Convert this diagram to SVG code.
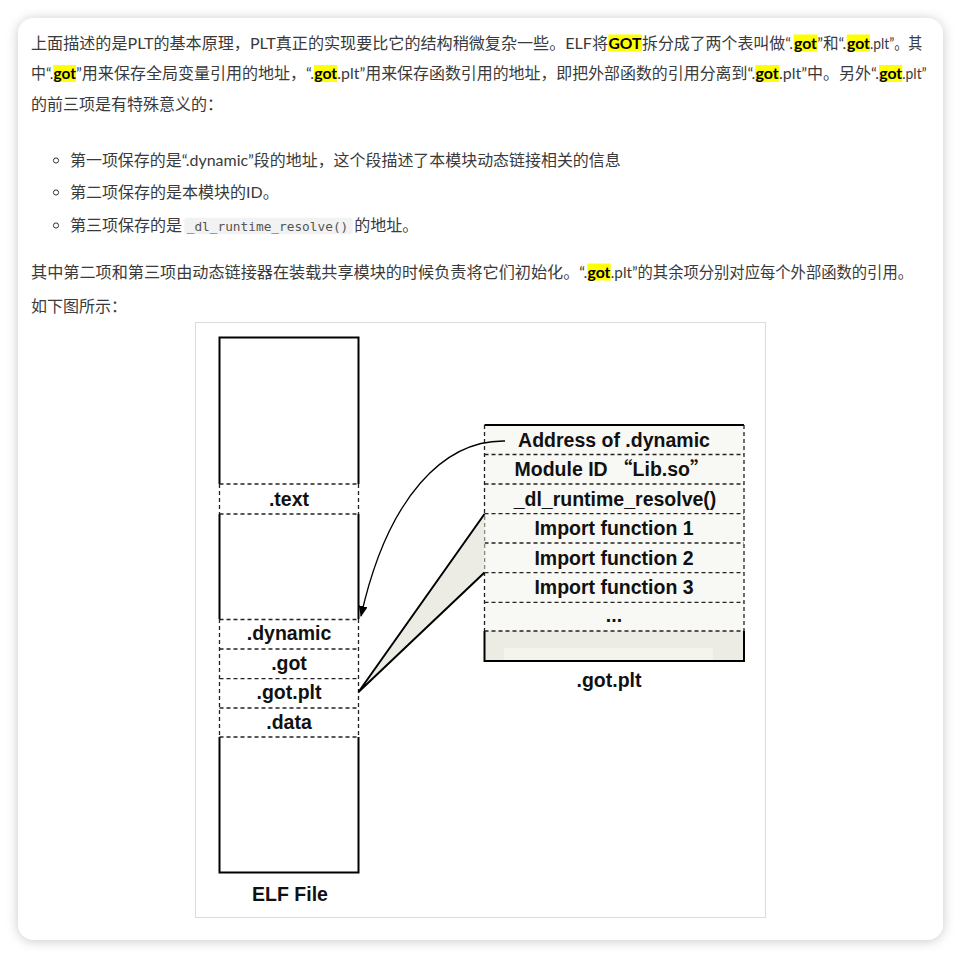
<svg xmlns="http://www.w3.org/2000/svg" width="961" height="958" viewBox="0 0 961 958">
<defs>
<filter id="shadow" x="-5%" y="-5%" width="110%" height="110%">
<feDropShadow dx="0" dy="1" stdDeviation="6" flood-color="#000" flood-opacity="0.22"/>
</filter>
<marker id="arrow" markerUnits="userSpaceOnUse" markerWidth="11" markerHeight="9" refX="10" refY="4.5" orient="auto">
<path d="M0,0 L11,4.5 L0,9 z" fill="#000"/>
</marker>
<style>
.p{font-family:Lato,"Noto Sans CJK SC",sans-serif;font-size:16px;fill:#3a3a3a}
.hl{fill:#ffff00}
.hw{font-family:Lato,"Noto Sans CJK SC",sans-serif;font-size:16px;font-weight:bold;fill:#000}
.code{font-family:"DejaVu Sans Mono",monospace;font-size:12.8px;fill:#555}
.lbl{font-family:"Liberation Sans",Arial,sans-serif;font-size:19.5px;font-weight:bold;fill:#111;text-anchor:middle}
.cjkq{font-family:"Noto Sans CJK SC",sans-serif}
.solid{stroke:#000;stroke-width:2;fill:none}
.dash{stroke:#222;stroke-width:1.3;stroke-dasharray:4,3;fill:none}
.edge{stroke:#000;stroke-width:2;fill:none}
</style>
</defs>
<rect width="961" height="958" fill="#fff"/>
<rect x="18" y="18" width="925" height="922" rx="16" fill="#fff" filter="url(#shadow)"/>

<!-- paragraph 1 -->
<rect class="hl" x="608.3" y="34.5" width="33.7" height="17"/>
<rect class="hl" x="793.7" y="34.5" width="23.6" height="17"/>
<rect class="hl" x="846.7" y="34.5" width="23.3" height="17"/>
<text class="p" x="31" y="48.5" textLength="577" lengthAdjust="spacingAndGlyphs">上面描述的是PLT的基本原理，PLT真正的实现要比它的结构稍微复杂一些。ELF将</text>
<text class="hw" x="608.5" y="48.5" textLength="33" lengthAdjust="spacingAndGlyphs">GOT</text>
<text class="p" x="642" y="48.5" textLength="151" lengthAdjust="spacingAndGlyphs">拆分成了两个表叫做“.</text>
<text class="hw" x="794" y="48.5" textLength="23" lengthAdjust="spacingAndGlyphs">got</text>
<text class="p" x="817.3" y="48.5" textLength="29" lengthAdjust="spacingAndGlyphs">”和“.</text>
<text class="hw" x="847" y="48.5" textLength="23" lengthAdjust="spacingAndGlyphs">got</text>
<text class="p" x="870" y="48.5" textLength="52" lengthAdjust="spacingAndGlyphs">.plt”。其</text>

<rect class="hl" x="53.3" y="65" width="22.7" height="17"/>
<rect class="hl" x="314" y="65" width="23.3" height="17"/>
<rect class="hl" x="755.3" y="65" width="23.7" height="17"/>
<rect class="hl" x="879" y="65" width="23.3" height="17"/>
<text class="p" x="31" y="79" textLength="22.3" lengthAdjust="spacingAndGlyphs">中“.</text>
<text class="hw" x="53.5" y="79" textLength="22.5" lengthAdjust="spacingAndGlyphs">got</text>
<text class="p" x="76" y="79" textLength="238" lengthAdjust="spacingAndGlyphs">”用来保存全局变量引用的地址，“.</text>
<text class="hw" x="314.2" y="79" textLength="23" lengthAdjust="spacingAndGlyphs">got</text>
<text class="p" x="337.3" y="79" textLength="418" lengthAdjust="spacingAndGlyphs">.plt”用来保存函数引用的地址，即把外部函数的引用分离到“.</text>
<text class="hw" x="755.5" y="79" textLength="23.3" lengthAdjust="spacingAndGlyphs">got</text>
<text class="p" x="779" y="79" textLength="100" lengthAdjust="spacingAndGlyphs">.plt”中。另外“.</text>
<text class="hw" x="879.2" y="79" textLength="23" lengthAdjust="spacingAndGlyphs">got</text>
<text class="p" x="902.3" y="79" textLength="24.4" lengthAdjust="spacingAndGlyphs">.plt”</text>

<text class="p" x="31" y="110">的前三项是有特殊意义的：</text>

<!-- bullets -->
<circle cx="56" cy="160.5" r="2.6" fill="none" stroke="#333" stroke-width="1"/>
<circle cx="56" cy="192.5" r="2.6" fill="none" stroke="#333" stroke-width="1"/>
<circle cx="56" cy="225.5" r="2.6" fill="none" stroke="#333" stroke-width="1"/>
<text class="p" x="70" y="166" textLength="550.7" lengthAdjust="spacingAndGlyphs">第一项保存的是“.dynamic”段的地址，这个段描述了本模块动态链接相关的信息</text>
<text class="p" x="70" y="198">第二项保存的是本模块的ID。</text>
<text class="p" x="70" y="231">第三项保存的是</text>
<rect x="184.3" y="217.7" width="168.4" height="16.6" rx="3" fill="#f2f2f2"/>
<text class="code" x="186.7" y="230.5" textLength="161.6" lengthAdjust="spacingAndGlyphs">_dl_runtime_resolve()</text>
<text class="p" x="354.3" y="231">的地址。</text>

<rect class="hl" x="587.3" y="263.5" width="23.4" height="17"/>
<text class="p" x="31" y="277.5" textLength="556.3" lengthAdjust="spacingAndGlyphs">其中第二项和第三项由动态链接器在装载共享模块的时候负责将它们初始化。“.</text>
<text class="hw" x="587.5" y="277.5" textLength="23" lengthAdjust="spacingAndGlyphs">got</text>
<text class="p" x="610.7" y="277.5" textLength="302.3" lengthAdjust="spacingAndGlyphs">.plt”的其余项分别对应每个外部函数的引用。</text>
<text class="p" x="31" y="311.5">如下图所示：</text>

<!-- figure frame -->
<rect x="195.5" y="322.5" width="570" height="595" fill="#fff" stroke="#dcdcdc" stroke-width="1"/>

<!-- ELF File node -->
<g id="elf-file">
<rect x="219.5" y="337.5" width="139" height="535" fill="#fff"/>
<path class="solid" d="M219.5,484 V337.5 H358.5 V484 M219.5,514 V619 M358.5,514 V619 M219.5,737 V872.5 H358.5 V737"/>
<path class="dash" d="M219.5,484 V514 M358.5,484 V514 M219.5,619 V737 M358.5,619 V737"/>
<path class="dash" d="M219.5,484 H358.5 M219.5,514 H358.5 M219.5,619.5 H358.5 M219.5,649 H358.5 M219.5,678.7 H358.5 M219.5,708 H358.5 M219.5,737 H358.5"/>
<text class="lbl" x="289" y="505.5">.text</text>
<text class="lbl" x="289" y="640">.dynamic</text>
<text class="lbl" x="289" y="669.5">.got</text>
<text class="lbl" x="289" y="699">.got.plt</text>
<text class="lbl" x="289" y="728.5">.data</text>
<text class="lbl" x="290" y="900.5">ELF File</text>
</g>

<!-- .got.plt table node -->
<g id="got-plt-table">
<rect x="484.5" y="425" width="259.5" height="206" fill="#f8f8f5"/>
<rect x="484.5" y="631" width="259.5" height="30" fill="#ececE4"/>
<rect x="504" y="648" width="209" height="12" fill="#f4f4ef"/>
<path class="solid" d="M484.5,425 H744 M484.5,631 V661 H744 V631"/>
<path class="dash" d="M484.5,425 V631 M744,425 V631"/>
<path class="dash" d="M484.5,454.5 H744 M484.5,484 H744 M484.5,513.7 H744 M484.5,543 H744 M484.5,572.7 H744 M484.5,602.3 H744 M484.5,631 H744"/>
<text class="lbl" x="614" y="446.5">Address of .dynamic</text>
<text class="lbl" x="612" y="476">Module ID <tspan class="cjkq">“</tspan>Lib.so<tspan class="cjkq">”</tspan></text>
<text class="lbl" x="615" y="505.5">_dl_runtime_resolve()</text>
<text class="lbl" x="614" y="535">Import function 1</text>
<text class="lbl" x="614" y="564.5">Import function 2</text>
<text class="lbl" x="614" y="594">Import function 3</text>
<text class="lbl" x="614" y="622">...</text>
<text class="lbl" x="609" y="687">.got.plt</text>
</g>

<!-- connectors -->
<g id="connectors">
<polygon points="358.5,692 484.5,514 484.5,572.5" fill="#ececE4"/>
<path class="edge" d="M358.5,692 L484.5,514 M358.5,692 L484.5,572.5"/>
<path d="M505,441 C445,440 388,495 361,616" fill="none" stroke="#000" stroke-width="1.3" marker-end="url(#arrow)"/>
</g>
</svg>
